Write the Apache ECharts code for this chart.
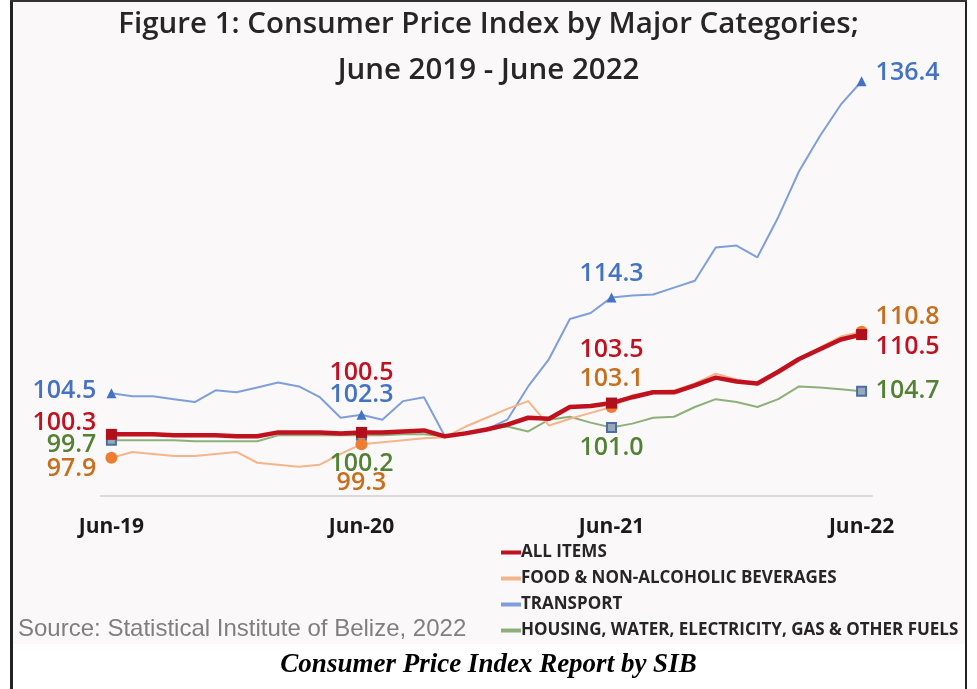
<!DOCTYPE html>
<html>
<head>
<meta charset="utf-8">
<script src="https://cdn.jsdelivr.net/npm/echarts@6/dist/echarts.min.js"></script>
<style>
  html, body { margin: 0; padding: 0; background: #fff; }
  #main { width: 977px; height: 689px; }
</style>
</head>
<body>
<div id="main"></div>
<script>
// monthly, Jun-19 .. Jun-22
const months = [
    'Jun-19', 'Jul-19', 'Aug-19', 'Sep-19', 'Oct-19', 'Nov-19', 'Dec-19',
    'Jan-20', 'Feb-20', 'Mar-20', 'Apr-20', 'May-20', 'Jun-20', 'Jul-20',
    'Aug-20', 'Sep-20', 'Oct-20', 'Nov-20', 'Dec-20', 'Jan-21', 'Feb-21',
    'Mar-21', 'Apr-21', 'May-21', 'Jun-21', 'Jul-21', 'Aug-21', 'Sep-21',
    'Oct-21', 'Nov-21', 'Dec-21', 'Jan-22', 'Feb-22', 'Mar-22', 'Apr-22',
    'May-22', 'Jun-22'
];

const allItems = [
    100.3, 100.3, 100.3, 100.2, 100.2, 100.2, 100.1, 100.1, 100.5, 100.5,
    100.5, 100.4, 100.5, 100.5, 100.6, 100.7, 100.1, 100.4, 100.8, 101.3,
    102.0, 101.9, 103.1, 103.2, 103.5, 104.1, 104.6, 104.6, 105.3, 106.1,
    105.7, 105.5, 106.7, 108.0, 109.0, 110.0, 110.5
];
const food = [
    97.9, 98.5, 98.3, 98.1, 98.1, 98.3, 98.5, 97.4, 97.2, 97.0,
    97.2, 98.3, 99.3, 99.5, 99.7, 99.9, 100.0, 101.1, 102.0, 102.9,
    103.7, 101.2, 101.9, 102.5, 103.1, 104.3, 104.7, 104.8, 105.5, 106.5,
    105.9, 105.4, 106.6, 108.1, 109.2, 110.3, 110.8
];
const transport = [
    104.5, 104.2, 104.2, 103.9, 103.6, 104.8, 104.6, 105.1, 105.6, 105.2,
    104.1, 102.0, 102.3, 101.8, 103.7, 104.1, 100.1, 100.5, 100.8, 101.8,
    105.2, 108.0, 112.1, 112.7, 114.3, 114.5, 114.6, 115.3, 116.0, 119.4,
    119.6, 118.4, 122.5, 127.2, 130.8, 134.0, 136.4
];
const housing = [
    99.7, 99.7, 99.7, 99.7, 99.6, 99.6, 99.6, 99.6, 100.2, 100.2,
    100.2, 100.2, 100.2, 100.2, 100.3, 100.3, 100.1, 100.5, 100.8, 101.1,
    100.6, 101.8, 102.1, 101.5, 101.0, 101.4, 102.0, 102.1, 103.1, 103.9,
    103.6, 103.1, 103.9, 105.2, 105.1, 104.9, 104.7
];

// label placement for the four marked months: [align, dx, dy]
const labelAll = { 0: ['right', -15, -11], 12: ['center', 0, -60], 24: ['center', 0, -53], 36: ['left', 14, 12] };
const labelFood = { 0: ['right', -15, 11], 12: ['center', 0, 39], 24: ['center', 0, -28], 36: ['left', 14, -15] };
const labelTransport = { 0: ['right', -15, -2], 12: ['center', 0, -20], 24: ['center', 0, -24], 36: ['left', 14, -8] };
const labelHousing = { 0: ['right', -15, 5], 12: ['center', 0, 29], 24: ['center', 0, 20], 36: ['left', 14, 0] };

function buildData(values, labels, labelColor) {
    return values.map(function (v, i) {
        let pos = labels[i];
        if (!pos) {
            return { value: v, symbol: 'none' };
        }
        return {
            value: v,
            label: {
                show: true,
                position: 'inside',
                align: pos[0],
                verticalAlign: 'middle',
                offset: [pos[1], pos[2]],
                color: labelColor,
                fontFamily: 'Open Sans',
                fontWeight: 600,
                fontSize: 25,
                formatter: function (p) { return p.value.toFixed(1); }
            }
        };
    });
}

let chartDom = document.getElementById('main');
let chart = echarts.init(chartDom);

let titleStyle = {
    fontFamily: 'Open Sans',
    fontWeight: 600,
    fontSize: 29.5,
    color: '#262626'
};

let option = {
    backgroundColor: '#ffffff',
    animation: false,
    graphic: [
        // panel + frame
        { type: 'rect', shape: { x: 12, y: 2, width: 954, height: 642 }, style: { fill: '#fbf8f9' }, z: -10 },
        { type: 'rect', shape: { x: 10, y: 0, width: 3, height: 689 }, style: { fill: '#222' }, z: -5 },
        { type: 'rect', shape: { x: 965, y: 0, width: 2, height: 689 }, style: { fill: '#222' }, z: -5 },
        { type: 'rect', shape: { x: 10, y: 0, width: 957, height: 2 }, style: { fill: '#333' }, z: -5 },
        {
            type: 'text', left: 18, top: 617,
            style: { text: 'Source: Statistical Institute of Belize, 2022', fill: '#7f7f7f', font: '24px "Liberation Sans"' }
        },
        {
            type: 'text', left: 'center', top: 652,
            style: { text: 'Consumer Price Index Report by SIB', fill: '#000', font: 'italic bold 27px "Liberation Serif"' }
        }
    ],
    title: [
        { text: 'Figure 1: Consumer Price Index by Major Categories;', left: 'center', top: 5, textStyle: titleStyle },
        { text: 'June 2019 - June 2022', left: 'center', top: 51, textStyle: titleStyle }
    ],
    legend: {
        orient: 'vertical',
        left: 496,
        top: 537,
        itemGap: 5,
        itemWidth: 20,
        itemHeight: 4,
        icon: 'rect',
        data: [
            { name: 'ALL ITEMS', itemStyle: { color: '#c0111f', borderWidth: 0 } },
            { name: 'FOOD & NON-ALCOHOLIC BEVERAGES', itemStyle: { color: '#f6b48a', borderWidth: 0 } },
            { name: 'TRANSPORT', itemStyle: { color: '#7f9fd8', borderWidth: 0 } },
            { name: 'HOUSING, WATER, ELECTRICITY, GAS & OTHER FUELS', itemStyle: { color: '#8db07a', borderWidth: 0 } }
        ],
        textStyle: {
            fontFamily: 'Open Sans',
            fontWeight: 'bold',
            fontSize: 17,
            lineHeight: 21,
            color: '#262626',
            padding: [0, 0, 0, -5]
        }
    },
    grid: { left: 101, width: 771, top: 46, height: 450 },
    xAxis: {
        type: 'category',
        data: months,
        boundaryGap: true,
        axisLine: { lineStyle: { color: '#d9d9d9', width: 2 } },
        axisTick: { interval: 11, length: 6, lineStyle: { color: '#d9d9d9', width: 2 } },
        axisLabel: {
            interval: 11,
            margin: 21,
            fontFamily: 'Open Sans',
            fontWeight: 'bold',
            fontSize: 21,
            color: '#1a1a1a'
        }
    },
    yAxis: {
        type: 'value',
        min: 94,
        max: 140,
        show: false,
        splitLine: { show: false }
    },
    series: [
        {
            name: 'TRANSPORT',
            type: 'line',
            symbol: 'triangle',
            symbolSize: 10,
            color: '#7f9fd8',
            lineStyle: { width: 2, color: '#7f9fd8' },
            itemStyle: { color: '#4472c4' },
            data: buildData(transport, labelTransport, '#4472c4')
        },
        {
            name: 'HOUSING, WATER, ELECTRICITY, GAS & OTHER FUELS',
            type: 'line',
            symbol: 'rect',
            symbolSize: 9,
            color: '#8db07a',
            lineStyle: { width: 2, color: '#8db07a' },
            itemStyle: { color: '#9aa8b6', borderColor: '#4a6fa5', borderWidth: 2 },
            data: buildData(housing, labelHousing, '#548235')
        },
        {
            name: 'FOOD & NON-ALCOHOLIC BEVERAGES',
            type: 'line',
            symbol: 'circle',
            symbolSize: 12,
            color: '#f6b48a',
            lineStyle: { width: 2, color: '#f6b48a' },
            itemStyle: { color: '#ed7d31' },
            data: buildData(food, labelFood, '#c5701f')
        },
        {
            name: 'ALL ITEMS',
            type: 'line',
            symbol: 'rect',
            symbolSize: 11,
            color: '#c0111f',
            lineStyle: { width: 4.5, color: '#c0111f' },
            itemStyle: { color: '#b0101c' },
            data: buildData(allItems, labelAll, '#c0111f')
        }
    ]
};

option && chart.setOption(option);
</script>
</body>
</html>
